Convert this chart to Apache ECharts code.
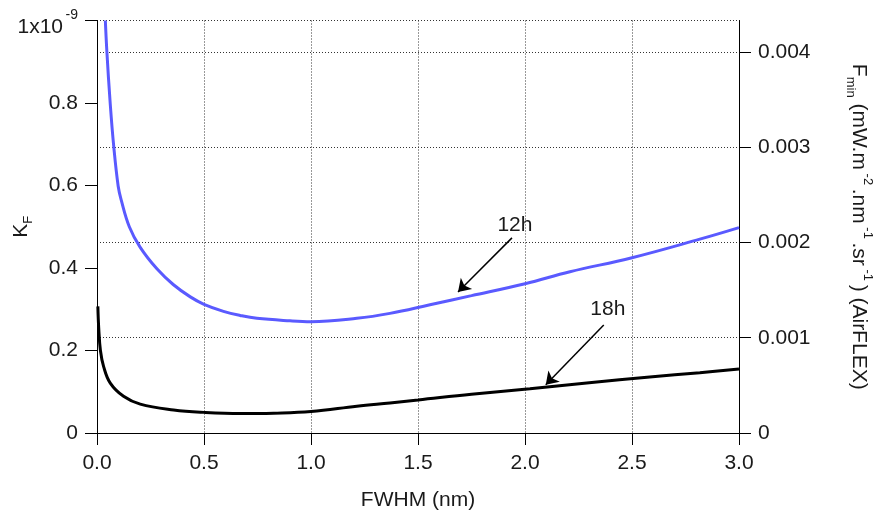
<!DOCTYPE html>
<html><head><meta charset="utf-8">
<script src="https://cdn.jsdelivr.net/npm/echarts@6/dist/echarts.min.js"></script>
<style>html,body{margin:0;padding:0;background:#fff}#c{width:882px;height:511px}</style>
</head><body><div id="c"></div>
<script>
// FWHM (nm) and K_F (units of 1e-9)
const fwhm12 = [0.039,0.046,0.062,0.078,0.099,0.113,0.151,0.202,0.280,0.356,0.436,0.5,0.591,0.669,0.747,0.902,1.0,1.214,1.369,1.556,1.75,2.0,2.21,2.5,2.817,3.0];
const kf12   = [1.0,0.926,0.797,0.696,0.598,0.565,0.500,0.450,0.398,0.360,0.330,0.312,0.295,0.285,0.278,0.272,0.270,0.278,0.290,0.311,0.333,0.362,0.391,0.425,0.470,0.498];
const fwhm18 = [0.004,0.008,0.016,0.031,0.062,0.124,0.202,0.358,0.5,0.669,0.825,1.0,1.214,1.369,1.5,1.75,2.023,2.3,2.583,2.817,3.0];
const kf18   = [0.307,0.255,0.200,0.161,0.121,0.089,0.070,0.056,0.050,0.047,0.048,0.052,0.065,0.073,0.080,0.094,0.107,0.122,0.136,0.146,0.155];
const seriesNames = ['12h','18h'];
// annotation arrows [from, to] and label anchors, in data units
const arrow12 = [[1.939,0.473],[1.687,0.342]];
const label12 = [1.953,0.504];
const arrow18 = [[2.368,0.262],[2.097,0.117]];
const label18 = [2.387,0.299];

const FONT = 'Liberation Sans, Arial, sans-serif';
const TXT = '#1a1a1a';
const FS = 21;
const pairs = (xs, ys) => xs.map((x, i) => [x, ys[i]]);
const dotted = {type:[1,2], color:'#333', width:1};

const chart = echarts.init(document.getElementById('c'), null, {renderer:'canvas'});
const annot = (arrow, lab, name) => ({
  markLine: {silent:true, symbol:['none','arrow'], symbolSize:12,
    lineStyle:{color:'#000', width:1.5, type:'solid'}, itemStyle:{color:'#000'}, label:{show:false},
    emphasis:{disabled:true},
    data:[[{coord:arrow[0]},{coord:arrow[1]}]]},
  markPoint: {silent:true, symbol:'circle', symbolSize:1, itemStyle:{color:'rgba(0,0,0,0)'},
    label:{show:true, position:'inside', formatter:'{b}', fontSize:FS, color:TXT, fontFamily:FONT},
    data:[{name:name, coord:lab}]}
});
chart.setOption({
  animation:false,
  textStyle:{fontFamily:FONT},
  grid:{left:97, right:143, top:20.5, bottom:78, containLabel:false, outerBoundsMode:'none'},
  xAxis:{type:'value', min:0, max:3, interval:0.5,
    axisLine:{show:true, lineStyle:{color:'#000', width:1}},
    axisTick:{show:true, length:12, lineStyle:{color:'#000'}},
    axisLabel:{fontSize:FS, color:TXT, margin:20, formatter:v=>v.toFixed(1)},
    splitLine:{show:true, lineStyle:dotted},
    name:'FWHM (nm)', nameLocation:'middle', nameGap:57, nameMoveOverlap:false,
    nameTextStyle:{fontSize:FS, color:TXT}},
  yAxis:[
    {type:'value', position:'left', min:0, max:1, interval:0.2,
     axisLine:{show:true, lineStyle:{color:'#000', width:1}},
     axisTick:{show:true, length:12, lineStyle:{color:'#000'}},
     splitLine:{show:false},
     axisLabel:{fontSize:FS, color:TXT, margin:19,
       formatter:v=> v===1 ? '{gap| }\n{sup|-9}\n{m|1x10}' : (v===0 ? '0' : String(+v.toFixed(1))),
       rich:{gap:{fontSize:4, lineHeight:11, color:TXT, fontFamily:FONT, align:'right'},
             m:{fontSize:FS, color:TXT, fontFamily:FONT, lineHeight:22, padding:[0,15,0,0], align:'right'},
             sup:{fontSize:14, color:TXT, fontFamily:FONT, lineHeight:2, align:'right'}}},
     name:'{a|K}{sub|F}', nameLocation:'middle', nameRotate:90, nameGap:62, nameMoveOverlap:false,
     nameTextStyle:{rich:{a:{fontSize:FS, color:TXT, fontFamily:FONT, lineHeight:28, verticalAlign:'middle'},
                          sub:{fontSize:13, color:TXT, fontFamily:FONT, lineHeight:28, verticalAlign:'bottom'}}}},
    {type:'value', position:'right', min:0, max:0.00433, interval:0.001,
     axisLine:{show:true, lineStyle:{color:'#000', width:1}},
     axisTick:{show:true, length:12, lineStyle:{color:'#000'}},
     splitLine:{show:true, lineStyle:dotted},
     axisLabel:{fontSize:FS, color:TXT, margin:19, showMaxLabel:false, formatter:v=> v===0 ? '0' : v.toFixed(3)},
     name:'{a|F}{sub|min}{a| (mW.m}{sup| -2 }{a|.nm}{sup| -1 }{a|.sr}{sup| -1 }{a|) (AirFLEX)}',
     nameLocation:'middle', nameRotate:-90, nameGap:105, nameMoveOverlap:false,
     nameTextStyle:{rich:{a:{fontSize:FS, color:TXT, fontFamily:FONT, lineHeight:30, verticalAlign:'middle'},
                          sub:{fontSize:13, color:TXT, fontFamily:FONT, lineHeight:30, verticalAlign:'bottom'},
                          sup:{fontSize:13, color:TXT, fontFamily:FONT, lineHeight:30, verticalAlign:'top'}}}}
  ],
  series:[
    Object.assign({name:seriesNames[0], type:'line', yAxisIndex:0, showSymbol:false, symbol:'none',
      smooth:0.4, lineStyle:{color:'#5a5aff', width:3}, itemStyle:{color:'#5a5aff'},
      data:pairs(fwhm12, kf12), z:3}, annot(arrow12, label12, seriesNames[0])),
    Object.assign({name:seriesNames[1], type:'line', yAxisIndex:0, showSymbol:false, symbol:'none',
      smooth:0.4, lineStyle:{color:'#000', width:3}, itemStyle:{color:'#000'},
      data:pairs(fwhm18, kf18), z:4}, annot(arrow18, label18, seriesNames[1]))
  ]
});
</script></body></html>
